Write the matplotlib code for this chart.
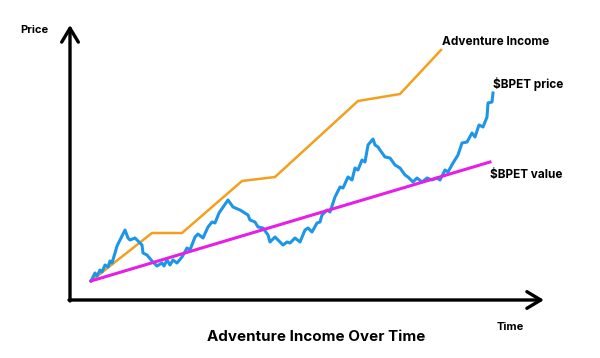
import matplotlib.pyplot as plt

# values (time, value) in chart units
income_t = [21, 82, 112, 172, 205, 288, 330, 371]
income_v = [19, 67, 67, 119, 123, 199, 206, 250]

value_t = [21, 420]
value_v = [19, 138]

price_t = [21, 25, 27, 30, 32, 35, 38, 40, 42, 45,
           47, 55, 58, 60, 65, 72, 73, 77, 82, 87,
           92, 94, 97, 100, 103, 107, 112, 117, 120, 125,
           128, 133, 138, 142, 145, 149, 158, 163, 170, 178,
           180, 185, 188, 193, 198, 200, 205, 210, 213, 217,
           220, 225, 230, 235, 238, 242, 247, 250, 252, 257,
           260, 265, 270, 273, 278, 282, 285, 288, 292, 295,
           298, 303, 305, 308, 310, 315, 320, 325, 330, 335,
           338, 343, 347, 352, 357, 362, 367, 370, 375, 378,
           383, 388, 392, 397, 402, 405, 409, 413, 417, 418,
           422, 423]
price_v = [19, 27, 24, 30, 28, 35, 33, 39, 37, 47,
           54, 70, 62, 60, 62, 55, 47, 45, 39, 34,
           37, 34, 40, 35, 40, 37, 43, 52, 50, 63,
           66, 62, 73, 78, 77, 87, 100, 93, 90, 85,
           80, 78, 73, 72, 65, 58, 63, 58, 55, 58,
           57, 62, 58, 70, 72, 68, 77, 78, 85, 90,
           88, 103, 113, 112, 123, 120, 132, 130, 140, 138,
           155, 161, 155, 153, 150, 143, 142, 135, 132, 125,
           123, 118, 122, 118, 122, 120, 122, 120, 130, 128,
           137, 145, 157, 158, 167, 163, 175, 173, 183, 197,
           198, 207]

fig = plt.figure(figsize=(6, 3.58), dpi=100)
ax = fig.add_axes([70 / 600, 58 / 358, 475 / 600, 275 / 358])
ax.set_xlim(0, 475)
ax.set_ylim(0, 275)
ax.axis('off')

# axes drawn as open arrows
arrow = dict(arrowstyle='->,head_length=1.0,head_width=0.6', lw=2.4, color='black',
             shrinkA=0, shrinkB=0)
ax.annotate('', xy=(0, 275), xytext=(0, -1), arrowprops=arrow, annotation_clip=False)
ax.annotate('', xy=(474, 0), xytext=(-1, 0), arrowprops=arrow, annotation_clip=False)

ax.plot(income_t, income_v, color='#F2A01E', lw=1.8, solid_joinstyle='miter')
ax.plot(price_t, price_v, color='#1E96E8', lw=2.2, solid_joinstyle='round')
ax.plot(value_t, value_v, color='#E61EE6', lw=2.2)

font = dict(family='Inter', weight='bold', color='black')
ax.text(372, 258, 'Adventure Income', fontsize=8.5, ha='left', va='center', **font)
ax.text(423, 216, '\\$BPET price', fontsize=8.5, ha='left', va='center', **font)
ax.text(420, 125, '\\$BPET value', fontsize=8.5, ha='left', va='center', **font)

fig.text(20 / 600, 1 - 30 / 358, 'Price', fontsize=8, ha='left', va='center', **font)
fig.text(510 / 600, 1 - 327 / 358, 'Time', fontsize=8, ha='center', va='center', **font)
fig.text(316 / 600, 1 - 337 / 358, 'Adventure Income Over Time', fontsize=10.9,
         ha='center', va='center', **font)

fig.savefig('out.png', dpi=100)
